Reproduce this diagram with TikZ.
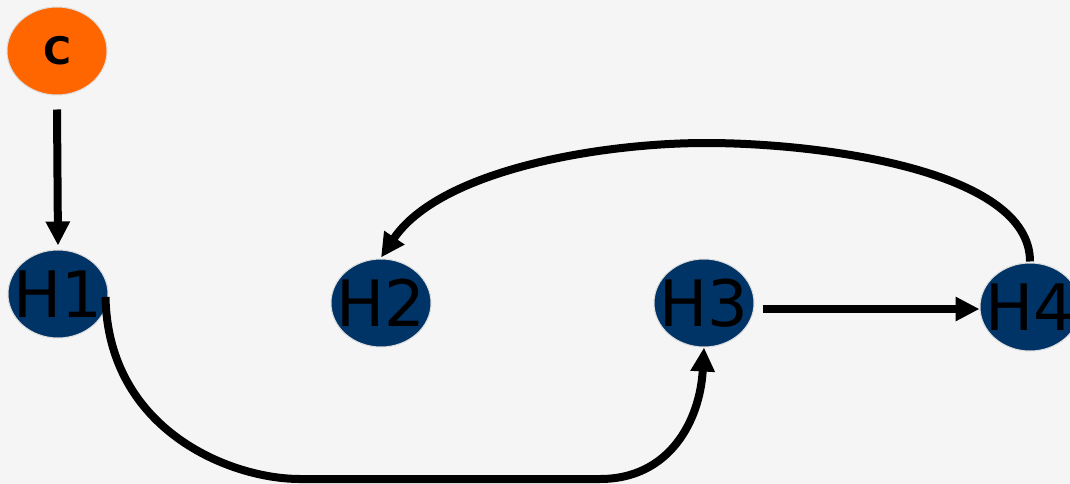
\documentclass[tikz,border=0pt]{standalone}
\usepackage{fontspec}
\setmainfont{DejaVu Sans}
\usetikzlibrary{shapes.geometric,arrows.meta}
\definecolor{bg}{HTML}{F5F5F5}
\definecolor{hnode}{HTML}{003366}
\definecolor{cnode}{HTML}{FF6600}
\definecolor{rim}{HTML}{DDDDDD}
\tikzset{
  blob/.style={ellipse, draw=rim, line width=1pt,
    minimum width=100pt, minimum height=88pt, inner sep=0pt},
  hyp/.style={blob, fill=hnode,
    font=\fontsize{64}{64}\selectfont, text=black},
  cls/.style={blob, fill=cnode,
    font=\fontsize{38}{38}\selectfont\bfseries, text=black},
  link/.style={line width=8pt, draw=black,
    -{Triangle[length=24pt,width=23pt]}}
}
\newcommand{\lbl}[1]{\makebox[0pt]{#1}}
\begin{document}
\begin{tikzpicture}[x=1pt,y=-1pt]
  \fill[bg] (0,0) rectangle (1070,484);
  \useasboundingbox (0,0) rectangle (1070,484);

  \node[cls] (C)  at (57,51)   {\lbl{C}};
  \node[hyp] (H1) at (58,294)  {\lbl{H1}};
  \node[hyp] (H2) at (381,303) {\lbl{H2}};
  \node[hyp] (H3) at (704,303) {\lbl{H3}};
  \node[hyp] (H4) at (1030,307) {\lbl{H4}};

  % C to H1
  \draw[link] ([yshift=-14pt]C.south) -- ([yshift=4pt]H1.north);
  % H1 down and round to H3
  \draw[link] ([xshift=-3pt,yshift=-3pt]H1.east)
      .. controls (108,430) and (230,479) .. (300,479)
      -- (600,479)
      .. controls (670,479) and (700,420) .. (H3.south);
  % H3 to H4
  \draw[link] ([xshift=8pt,yshift=-6pt]H3.east) -- ([yshift=-2pt]H4.west);
  % H4 over the top back to H2
  \draw[link] ([yshift=1pt]H4.north)
      .. controls (1030,170) and (820,143) .. (706,143)
      .. controls (600,143) and (440,170) .. ([yshift=1pt]H2.north);
\end{tikzpicture}
\end{document}
